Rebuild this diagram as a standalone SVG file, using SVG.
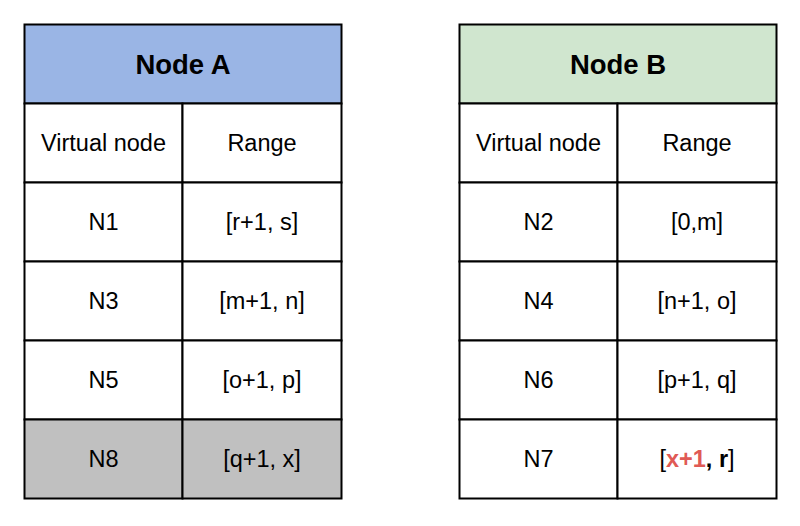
<svg xmlns="http://www.w3.org/2000/svg" width="800" height="526" viewBox="0 0 800 526">
<style>
.cell{stroke:#000;stroke-width:2;fill:#fff}
.t{font-family:"Liberation Sans",Arial,sans-serif;font-size:23.5px;fill:#000;text-anchor:middle}
.h{font-family:"Liberation Sans",Arial,sans-serif;font-size:27.5px;font-weight:bold;fill:#000;text-anchor:middle}
.red{fill:#E05A55;font-weight:bold}
.b{font-weight:bold}
</style>
<rect width="800" height="526" fill="#fff"/>
<g id="nodeA">
<rect class="cell" x="24.5" y="24.5" width="317" height="79" style="fill:#9AB5E5"/>
<text class="h" x="183" y="73.5">Node A</text>
<rect class="cell" x="24.5" y="103.5" width="158" height="79"/>
<rect class="cell" x="182.5" y="103.5" width="159" height="79"/>
<text class="t" x="103.5" y="150.5">Virtual node</text>
<text class="t" x="262" y="150.5">Range</text>
<rect class="cell" x="24.5" y="182.5" width="158" height="79"/>
<rect class="cell" x="182.5" y="182.5" width="159" height="79"/>
<text class="t" x="103.5" y="229.5">N1</text>
<text class="t" x="262" y="229.5">[r+1, s]</text>
<rect class="cell" x="24.5" y="261.5" width="158" height="79"/>
<rect class="cell" x="182.5" y="261.5" width="159" height="79"/>
<text class="t" x="103.5" y="308.5">N3</text>
<text class="t" x="262" y="308.5">[m+1, n]</text>
<rect class="cell" x="24.5" y="340.5" width="158" height="79"/>
<rect class="cell" x="182.5" y="340.5" width="159" height="79"/>
<text class="t" x="103.5" y="387.5">N5</text>
<text class="t" x="262" y="387.5">[o+1, p]</text>
<rect class="cell" x="24.5" y="419.5" width="158" height="79" style="fill:#C0C0C0"/>
<rect class="cell" x="182.5" y="419.5" width="159" height="79" style="fill:#C0C0C0"/>
<text class="t" x="103.5" y="466.5">N8</text>
<text class="t" x="262" y="466.5">[q+1, x]</text>
</g>
<g id="nodeB">
<rect class="cell" x="459.5" y="24.5" width="317" height="79" style="fill:#D0E6CF"/>
<text class="h" x="618" y="73.5">Node B</text>
<rect class="cell" x="459.5" y="103.5" width="158" height="79"/>
<rect class="cell" x="617.5" y="103.5" width="159" height="79"/>
<text class="t" x="538.5" y="150.5">Virtual node</text>
<text class="t" x="697" y="150.5">Range</text>
<rect class="cell" x="459.5" y="182.5" width="158" height="79"/>
<rect class="cell" x="617.5" y="182.5" width="159" height="79"/>
<text class="t" x="538.5" y="229.5">N2</text>
<text class="t" x="697" y="229.5">[0,m]</text>
<rect class="cell" x="459.5" y="261.5" width="158" height="79"/>
<rect class="cell" x="617.5" y="261.5" width="159" height="79"/>
<text class="t" x="538.5" y="308.5">N4</text>
<text class="t" x="697" y="308.5">[n+1, o]</text>
<rect class="cell" x="459.5" y="340.5" width="158" height="79"/>
<rect class="cell" x="617.5" y="340.5" width="159" height="79"/>
<text class="t" x="538.5" y="387.5">N6</text>
<text class="t" x="697" y="387.5">[p+1, q]</text>
<rect class="cell" x="459.5" y="419.5" width="158" height="79"/>
<rect class="cell" x="617.5" y="419.5" width="159" height="79"/>
<text class="t" x="538.5" y="466.5">N7</text>
<text class="t" x="697" y="466.5">[<tspan class="red">x+1</tspan><tspan class="b">, r</tspan>]</text>
</g>
<g id="connectors"/>
</svg>
